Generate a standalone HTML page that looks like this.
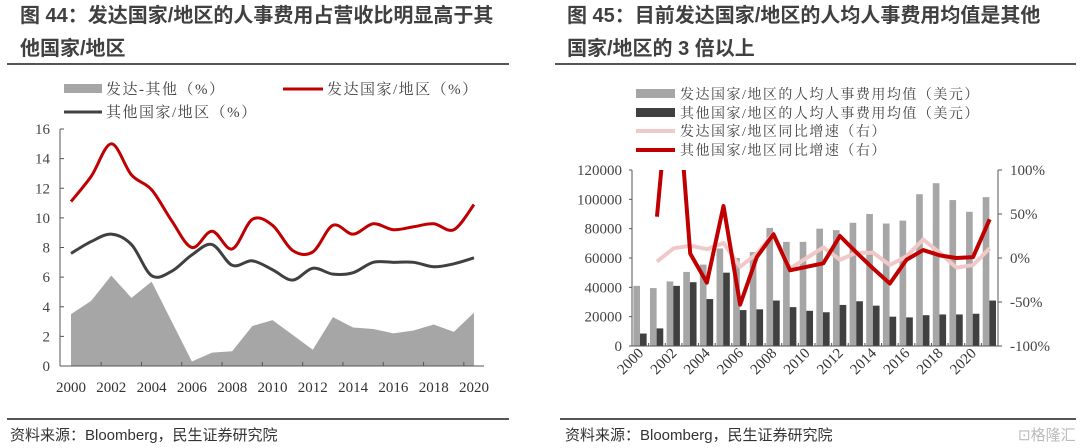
<!DOCTYPE html>
<html><head><meta charset="utf-8">
<style>
body{margin:0;background:#fff;width:1080px;height:448px;overflow:hidden;font-family:"Liberation Sans","Noto Sans CJK SC",sans-serif}
svg{position:absolute;left:0;top:0}
</style></head><body>
<svg width="1080" height="448" xmlns="http://www.w3.org/2000/svg">
<g font-family="'Liberation Sans','Noto Sans CJK SC',sans-serif" font-weight="bold" font-size="20" fill="#404040">
<text x="20" y="22">图 44：发达国家/地区的人事费用占营收比明显高于其</text>
<text x="20" y="55">他国家/地区</text>
<text x="567" y="22">图 45：目前发达国家/地区的人均人事费用均值是其他</text>
<text x="567" y="55">国家/地区的 3 倍以上</text>
</g>
<line x1="7" y1="64" x2="509" y2="64" stroke="#555" stroke-width="2"/>
<line x1="555" y1="64" x2="1076" y2="64" stroke="#555" stroke-width="2"/>
<line x1="7" y1="419" x2="509" y2="419" stroke="#555" stroke-width="2"/>
<line x1="560" y1="419" x2="1076" y2="419" stroke="#555" stroke-width="2"/>
<g font-size="15" fill="#333" font-family="'Liberation Sans','Noto Sans CJK SC',sans-serif">
<text x="10" y="440">资料来源：Bloomberg，民生证券研究院</text>
<text x="565" y="440">资料来源：Bloomberg，民生证券研究院</text>
<text x="1018" y="440" font-size="15" fill="#bbb">⊡格隆汇</text>
</g>
<g id="left"></g>
<g id="right"></g>
</svg>
<script>
const NS="http://www.w3.org/2000/svg";
const leftYears=[2000,2001,2002,2003,2004,2005,2006,2007,2008,2009,2010,2011,2012,2013,2014,2015,2016,2017,2018,2019,2020];
const leftDiff=[3.5,4.4,6.1,4.6,5.7,3.0,0.3,0.9,1.0,2.7,3.1,2.1,1.1,3.3,2.6,2.5,2.2,2.4,2.8,2.3,3.6];
const leftDeveloped=[11.1,12.8,15.0,12.9,11.9,9.8,8.0,9.1,7.9,9.9,9.5,7.8,7.7,9.5,8.9,9.6,9.2,9.4,9.6,9.2,10.9];
const leftOther=[7.6,8.4,8.9,8.2,6.1,6.4,7.5,8.2,6.8,7.1,6.5,5.8,6.6,6.2,6.3,7.0,7.0,7.0,6.7,6.9,7.3];
const leftTicks=[0,2,4,6,8,10,12,14,16];

const rightYears=[2000,2001,2002,2003,2004,2005,2006,2007,2008,2009,2010,2011,2012,2013,2014,2015,2016,2017,2018,2019,2020,2021];
const rightDevAvg=[41000,39500,44000,50500,55500,66500,60000,64000,80500,71000,71000,80000,79000,84000,90000,83500,85500,103500,111000,99500,91500,101500];
const rightOtherAvg=[8500,12000,41000,43500,32000,50000,24500,25000,31000,26500,24000,23000,28000,30500,27500,20000,19500,21000,21500,21500,22000,31000];
const rightDevGrowth=[null,-4,11,14,10,17,-10,5,28,-12,0,12,-2,6,6,-8,2,21,6,-11,-8,11];
const rightOtherGrowth=[null,47,250,5,-28,59,-53,1,27,-14,-10,-6,25,6,-12,-29,-2,9,3,0,1,44];
const rightLeftTicks=[0,20000,40000,60000,80000,100000,120000];
const rightPctTicks=[-100,-50,0,50,100];
const rightXLabels=[2000,2002,2004,2006,2008,2010,2012,2014,2016,2018,2020];

function el(p,tag,a,txt){const e=document.createElementNS(NS,tag);for(const k in a)e.setAttribute(k,a[k]);if(txt!==undefined)e.textContent=txt;p.appendChild(e);return e;}
function smooth(pts){let d=`M${pts[0][0]},${pts[0][1]}`;for(let i=0;i<pts.length-1;i++){const p0=pts[i-1]||pts[i],p1=pts[i],p2=pts[i+1],p3=pts[i+2]||p2;
d+=` C${p1[0]+(p2[0]-p0[0])/6},${p1[1]+(p2[1]-p0[1])/6} ${p2[0]-(p3[0]-p1[0])/6},${p2[1]-(p3[1]-p1[1])/6} ${p2[0]},${p2[1]}`;}return d;}

// LEFT
const L=document.getElementById('left');
const lx=i=>71+i*(474-71)/(leftYears.length-1);
const ly=v=>366-v*(366-129)/16;
let ad=`M${lx(0)},${ly(0)}`;leftDiff.forEach((v,i)=>ad+=` L${lx(i)},${ly(v)}`);ad+=` L${lx(leftDiff.length-1)},${ly(0)}Z`;
let e=el(L,'path',{d:ad,fill:'#a6a6a6'});


e=el(L,'path',{d:smooth(leftOther.map((v,i)=>[lx(i),ly(v)])),fill:'none',stroke:'#404040','stroke-width':3});


e=el(L,'path',{d:smooth(leftDeveloped.map((v,i)=>[lx(i),ly(v)])),fill:'none',stroke:'#c00000','stroke-width':3});


el(L,'line',{x1:60,y1:129,x2:60,y2:366,stroke:'#555'});
el(L,'line',{x1:60,y1:366,x2:484,y2:366,stroke:'#555'});
leftTicks.forEach(t=>{el(L,'line',{x1:60,y1:ly(t),x2:64,y2:ly(t),stroke:'#555'});
const tx=el(L,'text',{x:50,y:ly(t)+5,'text-anchor':'end','font-size':15,fill:'#444','font-family':'Liberation Serif,serif'},t);

});
for(let i=1;i<leftYears.length;i+=2){el(L,'line',{x1:lx(i)+10,y1:362,x2:lx(i)+10,y2:366,stroke:'#555'});}
leftYears.forEach((y,i)=>{if(i%2)return;const tx=el(L,'text',{x:lx(i),y:392,'text-anchor':'middle','font-size':15,fill:'#333','font-family':'Liberation Serif,serif'},y);

});
const lf="'Liberation Serif','Noto Serif CJK SC',serif";
el(L,'rect',{x:64,y:84,width:38,height:9,fill:'#a6a6a6'});
el(L,'text',{x:106,y:94,'font-size':15,fill:'#444','font-family':lf,'letter-spacing':1.5},'发达-其他（%）');
el(L,'line',{x1:283,y1:89,x2:323,y2:89,stroke:'#c00000','stroke-width':3});
el(L,'text',{x:327,y:94,'font-size':15,fill:'#444','font-family':lf,'letter-spacing':1.5},'发达国家/地区（%）');
el(L,'line',{x1:64,y1:112,x2:102,y2:112,stroke:'#404040','stroke-width':3});
el(L,'text',{x:106,y:117,'font-size':15,fill:'#444','font-family':lf,'letter-spacing':1.5},'其他国家/地区（%）');

// RIGHT
const R=document.getElementById('right');
const rX0=632,rX1=998,rTop=170,rBot=346,sw=(rX1-rX0)/rightYears.length;
const cx=i=>rX0+(i+0.5)*sw;
const ry=v=>rBot-v*(rBot-rTop)/120000;
const py=v=>rBot-(v+100)*(rBot-rTop)/200;
el(R,'defs',{}).innerHTML='<clipPath id="rc"><rect x="'+rX0+'" y="'+rTop+'" width="'+(rX1-rX0)+'" height="'+(rBot-rTop)+'"/></clipPath>';
rightYears.forEach((y,i)=>{
let b=el(R,'rect',{x:cx(i)-sw*0.42,y:ry(rightDevAvg[i]),width:sw*0.4,height:rBot-ry(rightDevAvg[i]),fill:'#a6a6a6'});


b=el(R,'rect',{x:cx(i)-sw*0.02,y:ry(rightOtherAvg[i]),width:sw*0.4,height:rBot-ry(rightOtherAvg[i]),fill:'#404040'});

});
function pl(arr){return arr.map((v,i)=>v===null?null:[cx(i),py(v)]).filter(p=>p).map((p,j)=>(j?'L':'M')+p[0]+','+p[1]).join(' ');}
e=el(R,'path',{d:pl(rightDevGrowth),fill:'none',stroke:'#f0c8c8','stroke-width':4,'clip-path':'url(#rc)','stroke-linejoin':'round'});


e=el(R,'path',{d:pl(rightOtherGrowth),fill:'none',stroke:'#c00000','stroke-width':4,'clip-path':'url(#rc)','stroke-linejoin':'round'});


el(R,'line',{x1:rX0,y1:rTop,x2:rX0,y2:rBot,stroke:'#555'});
el(R,'line',{x1:rX1,y1:rTop,x2:rX1,y2:rBot,stroke:'#555'});
el(R,'line',{x1:rX0,y1:rBot,x2:rX1,y2:rBot,stroke:'#555'});
rightLeftTicks.forEach(t=>{el(R,'line',{x1:rX0-3,y1:ry(t),x2:rX0,y2:ry(t),stroke:'#555'});
const tx=el(R,'text',{x:rX0-10,y:ry(t)+5,'text-anchor':'end','font-size':15,fill:'#444','font-family':'Liberation Serif,serif'},t);

});
rightPctTicks.forEach(t=>{el(R,'line',{x1:rX1,y1:py(t),x2:rX1+4,y2:py(t),stroke:'#555'});
const tx=el(R,'text',{x:rX1+12,y:py(t)+5,'font-size':15,fill:'#444','font-family':'Liberation Serif,serif'},t+'%');

});
rightYears.forEach((y,i)=>{if(i)el(R,'line',{x1:rX0+i*sw,y1:rBot-3,x2:rX0+i*sw,y2:rBot,stroke:'#555'});});
rightXLabels.forEach(y=>{const i=rightYears.indexOf(y);const x=cx(i)+4,yy=354;
const tx=el(R,'text',{x:x,y:yy,'text-anchor':'end','font-size':15,fill:'#333','font-family':'Liberation Serif,serif',transform:`rotate(-45 ${x} ${yy})`},y);

});
el(R,'rect',{x:636,y:89,width:39,height:9,fill:'#a6a6a6'});
el(R,'text',{x:680,y:99,'font-size':14,fill:'#444','font-family':lf,'letter-spacing':1.5},'发达国家/地区的人均人事费用均值（美元）');
el(R,'rect',{x:636,y:108,width:39,height:9,fill:'#404040'});
el(R,'text',{x:680,y:118,'font-size':14,fill:'#444','font-family':lf,'letter-spacing':1.5},'其他国家/地区的人均人事费用均值（美元）');
el(R,'line',{x1:636,y1:131,x2:675,y2:131,stroke:'#f0c8c8','stroke-width':4});
el(R,'text',{x:680,y:136,'font-size':14,fill:'#444','font-family':lf,'letter-spacing':1.5},'发达国家/地区同比增速（右）');
el(R,'line',{x1:636,y1:150,x2:675,y2:150,stroke:'#c00000','stroke-width':4});
el(R,'text',{x:680,y:155,'font-size':14,fill:'#444','font-family':lf,'letter-spacing':1.5},'其他国家/地区同比增速（右）');
</script>
</body></html>
